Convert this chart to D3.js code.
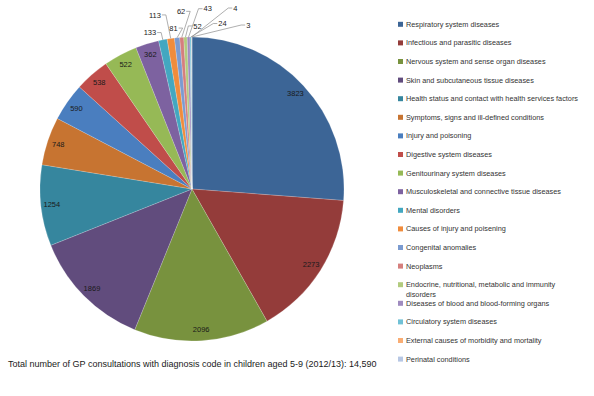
<!DOCTYPE html>
<html>
<head>
<meta charset="utf-8">
<script src="https://cdn.jsdelivr.net/npm/d3@7"></script>
<style>
  body { margin: 0; background: #fff; }
  svg text { font-family: "Liberation Sans", Arial, sans-serif; }
</style>
</head>
<body>
<svg id="chart"></svg>
<script>
// chart data
const categories = [
  "Respiratory system diseases",
  "Infectious and parasitic diseases",
  "Nervous system and sense organ diseases",
  "Skin and subcutaneous tissue diseases",
  "Health status and contact with health services factors",
  "Symptoms, signs and ill-defined conditions",
  "Injury and poisoning",
  "Digestive system diseases",
  "Genitourinary system diseases",
  "Musculoskeletal and connective tissue diseases",
  "Mental disorders",
  "Causes of injury and poisening",
  "Congenital anomalies",
  "Neoplasms",
  "Endocrine, nutritional, metabolic and immunity disorders",
  "Diseases of blood and blood-forming organs",
  "Circulatory system diseases",
  "External causes of morbidity and mortality",
  "Perinatal conditions"
];
const values = [3823, 2273, 2096, 1869, 1254, 748, 590, 538, 522, 362, 133, 113, 81, 62, 52, 43, 24, 4, 3];
const colors = [
  "#3c6596", "#943c3a", "#78923e", "#614c7d", "#36869e", "#c77431",
  "#4a7ebf", "#c04d4a", "#96b956", "#7d62a0", "#43a7c0", "#f08c3c",
  "#7b9bd0", "#d57f7d", "#b2cb7e", "#9f8bbf", "#70c1d6", "#f9ad74", "#b7c7e4"
];
const footnote = "Total number of GP consultations with diagnosis code in children aged 5-9 (2012/13): 14,590";

const width = 594, height = 396;
const cx = 192, cy = 189, R = 152;

const svg = d3.select("#chart")
    .attr("width", width)
    .attr("height", height);

const data = categories.map((c, i) => ({ name: c, value: values[i], color: colors[i] }));

const pie = d3.pie().sort(null).value(d => d.value);
const arcs = pie(data);

const arc = d3.arc().innerRadius(0).outerRadius(R);
const labelArc = d3.arc().innerRadius(141).outerRadius(141);

const g = svg.append("g").attr("transform", `translate(${cx},${cy})`);

g.selectAll("path.slice")
  .data(arcs)
  .enter()
  .append("path")
    .attr("class", "slice")
    .attr("d", arc)
    .attr("fill", d => d.data.color)
    .attr("stroke", "rgba(255,255,255,0.35)")
    .attr("stroke-width", 0.5);

// labels inside for big slices
const big = arcs.filter(d => d.endAngle - d.startAngle > 0.06);
const small = arcs.filter(d => d.endAngle - d.startAngle <= 0.06);

g.selectAll("text.inlabel")
  .data(big)
  .enter()
  .append("text")
    .attr("class", "inlabel")
    .attr("transform", d => `translate(${labelArc.centroid(d)})`)
    .attr("text-anchor", "middle")
    .attr("dy", "0.35em")
    .attr("font-size", 7.5)
    .attr("fill", "#1a1a1a")
    .text(d => d.data.value);

// outside labels for the thin slices: spread along two rings
const toDeg = a => a * 180 / Math.PI;
let placed = [];
small.forEach((d, i) => {
  const mid = toDeg((d.startAngle + d.endAngle) / 2) - 360;
  let a = mid - 4;
  if (i >= 1) a = Math.max(a, placed[i - 1] + 2);
  if (i >= 2) a = Math.max(a, placed[i - 2] + 8.5);
  placed.push(a);
  d.labelAngle = a;
  d.labelR = R + 10 + 16 * (i % 2) + 0.6 * Math.max(0, a);
});

const pt = (deg, r) => [r * Math.sin(deg * Math.PI / 180), -r * Math.cos(deg * Math.PI / 180)];

small.forEach(d => {
  const [lx, ly] = pt(d.labelAngle, d.labelR);
  const t = g.append("text")
      .attr("x", lx)
      .attr("y", ly)
      .attr("text-anchor", "middle")
      .attr("dy", "0.35em")
      .attr("font-size", 7.5)
      .attr("fill", "#1a1a1a")
      .text(d.data.value);
  const w = t.node().getComputedTextLength();
  const mid = (d.startAngle + d.endAngle) / 2;
  const ax = R * Math.sin(mid), ay = -R * Math.cos(mid);
  const left = d.labelAngle < 0;
  const ex = left ? lx + w / 2 + 1 : lx - w / 2 - 1;
  const hx = left ? ex + 4 : ex - 4;
  g.append("path")
    .attr("d", d3.line()([[ex, ly], [hx, ly], [ax, ay]]))
    .attr("fill", "none")
    .attr("stroke", "#8c8c8c")
    .attr("stroke-width", 0.7);
});

// legend
const legY0 = 24.3, legStep = 18.6, legFont = 7.3, legMaxW = 176;
const legend = svg.append("g").attr("class", "legend");
data.forEach((d, i) => {
  const y = legY0 + i * legStep;
  legend.append("rect")
    .attr("x", 398)
    .attr("y", y - 2.5)
    .attr("width", 5)
    .attr("height", 5)
    .attr("fill", d.color);
  const t = legend.append("text")
    .attr("x", 406)
    .attr("y", y)
    .attr("dy", "0.35em")
    .attr("font-size", legFont)
    .attr("fill", "#333")
    .text(d.name);
  // wrap the last word onto a second line when too wide
  if (t.node().getComputedTextLength() > legMaxW) {
    const words = d.name.split(" ");
    t.text(words.slice(0, -1).join(" "));
    legend.append("text")
      .attr("x", 406)
      .attr("y", y + 9.6)
      .attr("dy", "0.35em")
      .attr("font-size", legFont)
      .attr("fill", "#333")
      .text(words[words.length - 1]);
  }
});

svg.append("text")
  .attr("x", 8)
  .attr("y", 364)
  .attr("dy", "0.35em")
  .attr("font-size", 9)
  .attr("fill", "#1a1a1a")
  .text(footnote);
</script>
</body>
</html>
